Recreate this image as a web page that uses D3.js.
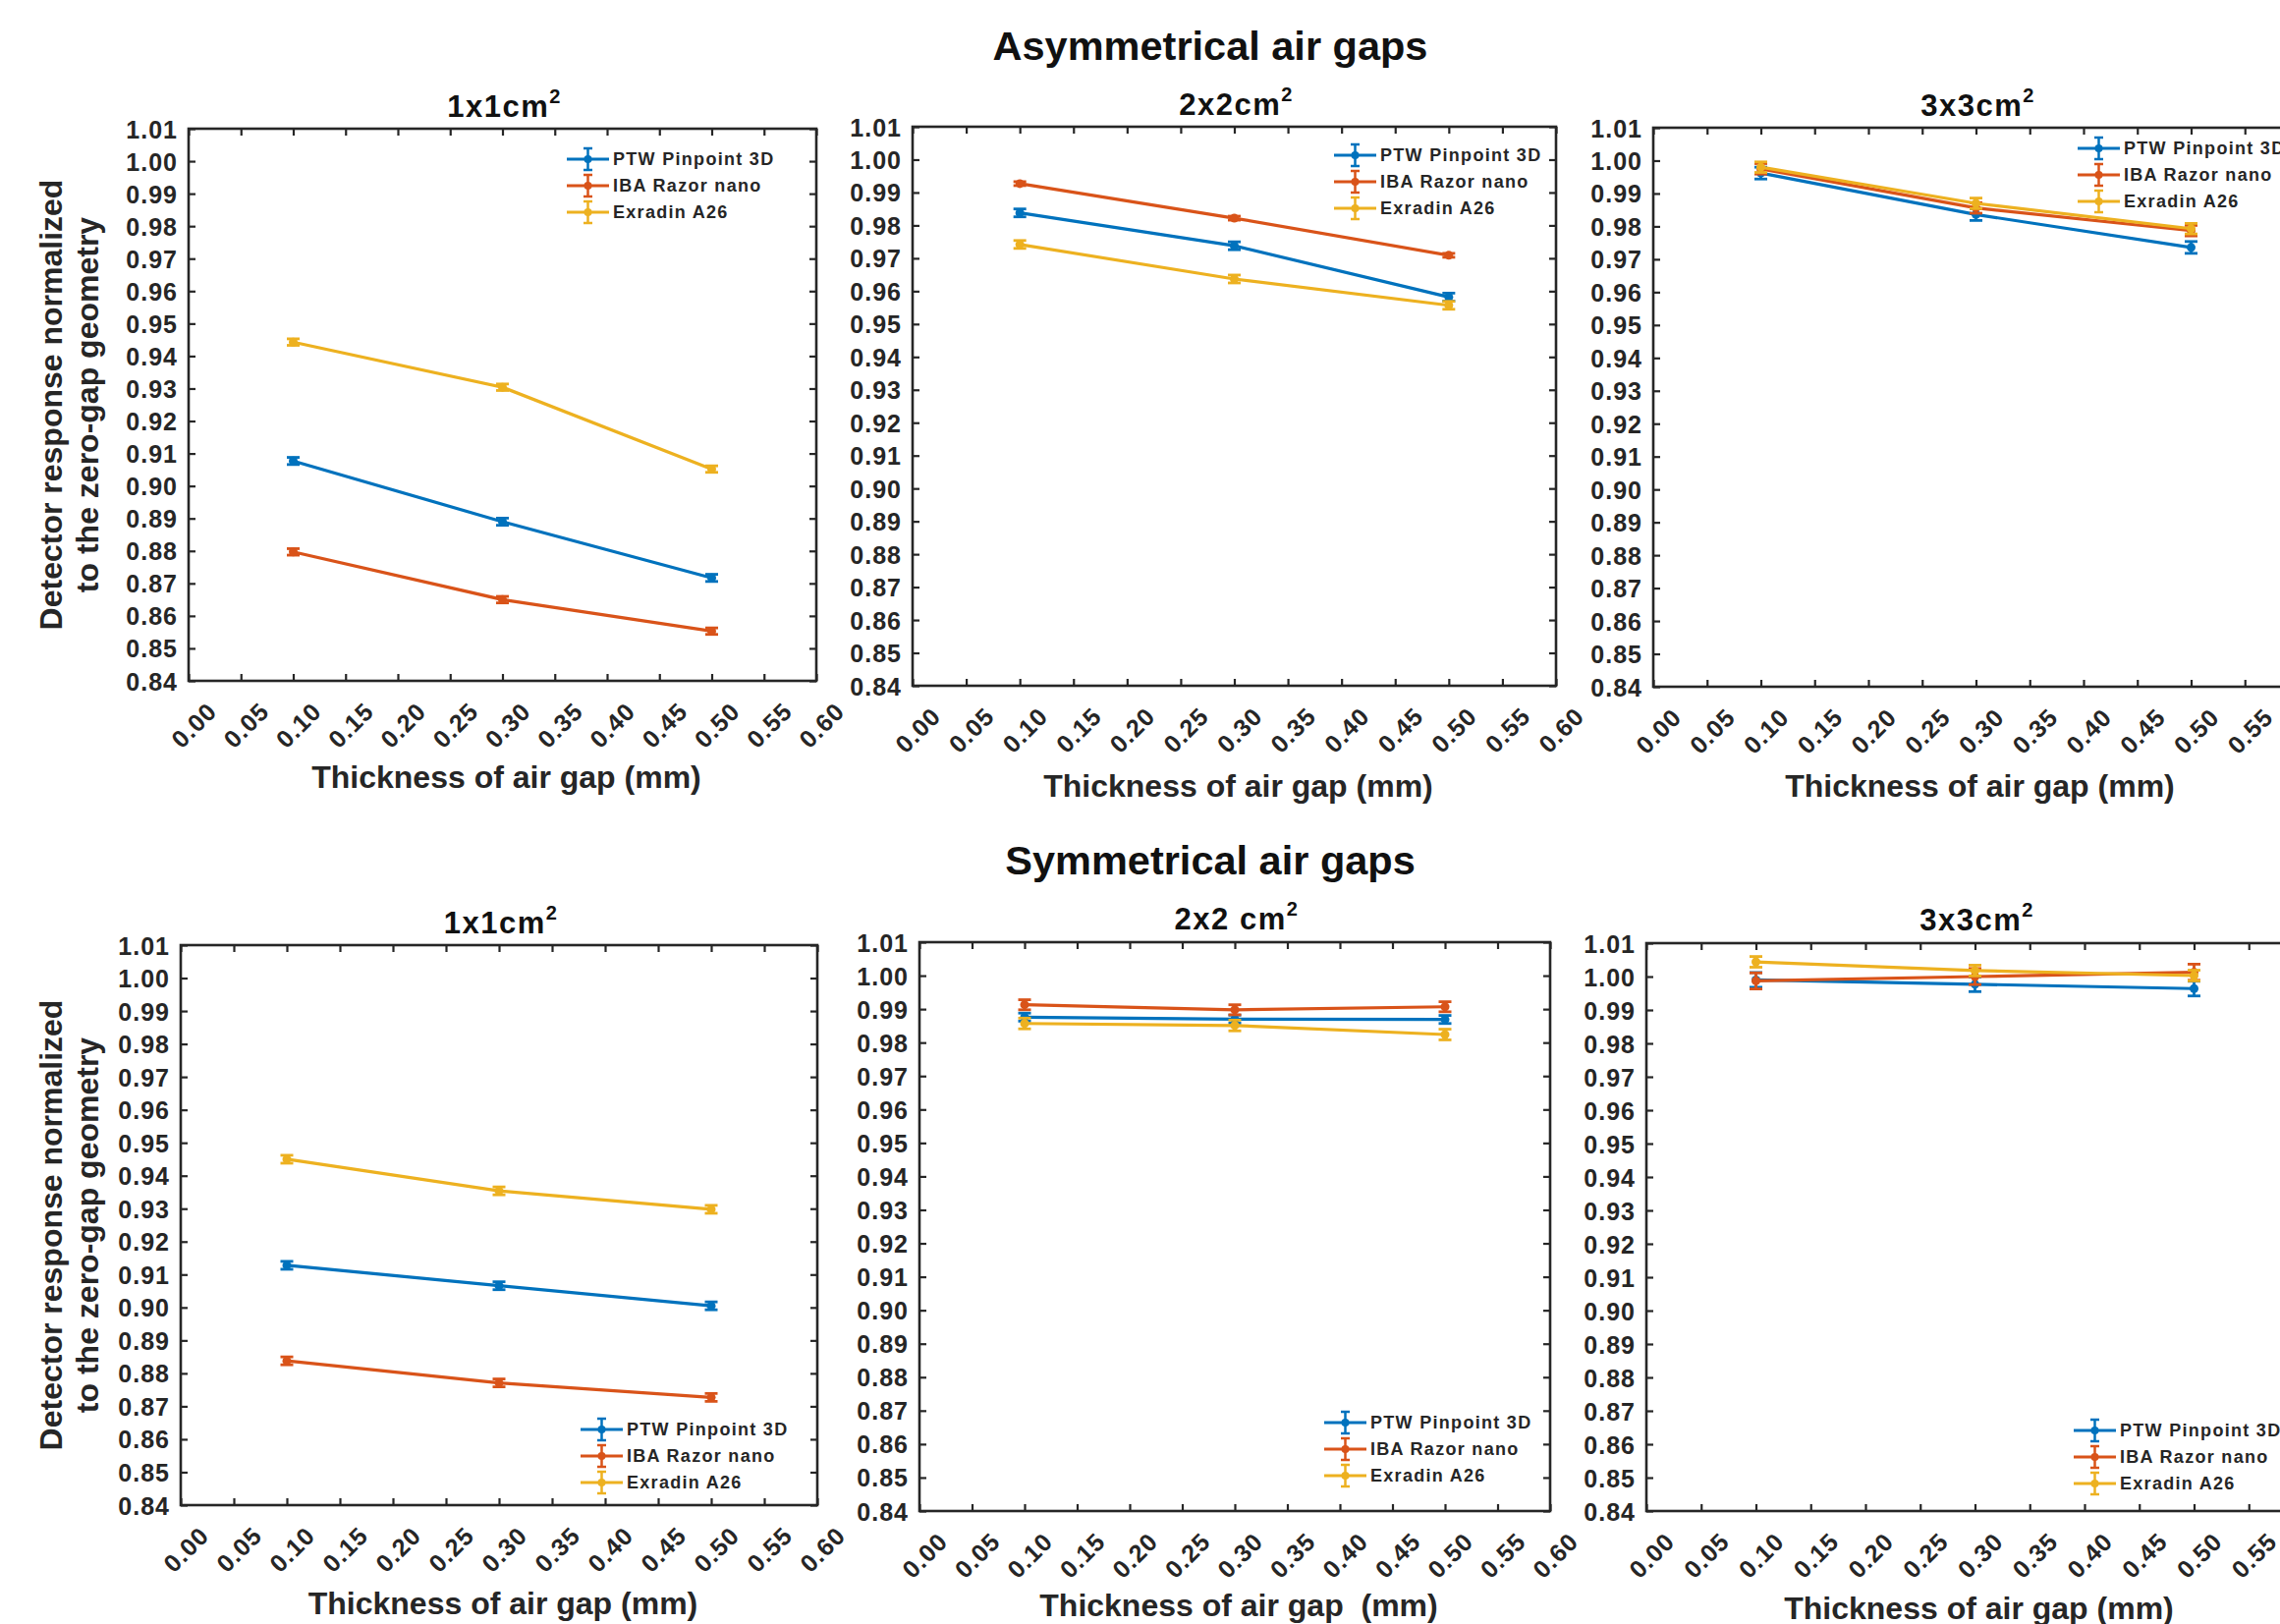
<!DOCTYPE html>
<html><head><meta charset="utf-8">
<script src="https://cdn.jsdelivr.net/npm/d3@7"></script>
<style>
body{margin:0;background:#fff}
svg text{font-family:"Liberation Sans",Arial,Helvetica,sans-serif;font-weight:bold}
</style>
</head><body>
<svg id="chart" width="2321" height="1653"></svg>
<script>
// ---------------- data ----------------
const gapThickness = [0.1, 0.3, 0.5];
const detectorNames = ["PTW Pinpoint 3D", "IBA Razor nano", "Exradin A26"];
const xTickValues = [0, 0.05, 0.10, 0.15, 0.20, 0.25, 0.30, 0.35, 0.40, 0.45, 0.50, 0.55, 0.60];
const yTickValues = [0.84, 0.85, 0.86, 0.87, 0.88, 0.89, 0.90, 0.91, 0.92, 0.93, 0.94, 0.95, 0.96, 0.97, 0.98, 0.99, 1.00, 1.01];
const groupTitles = ["Asymmetrical air gaps", "Symmetrical air gaps"];
const panelTitles = ["1x1cm", "2x2cm", "3x3cm", "1x1cm", "2x2 cm", "3x3cm"];
const xAxisTitles = ["Thickness of air gap (mm)", "Thickness of air gap (mm)", "Thickness of air gap (mm)",
                     "Thickness of air gap (mm)", "Thickness of air gap\u00a0 (mm)", "Thickness of air gap (mm)"];
const yAxisTitleLines = ["Detector response normalized", "to the zero-gap geometry"];

// Asymmetrical air gaps
const asym1x1PTW = [0.9077, 0.8890, 0.8717];
const asym1x1IBA = [0.8797, 0.8650, 0.8553];
const asym1x1Exr = [0.9443, 0.9304, 0.9052];
const asym2x2PTW = [0.9838, 0.9738, 0.9582];
const asym2x2IBA = [0.9927, 0.9822, 0.9709];
const asym2x2Exr = [0.9742, 0.9637, 0.9557];
const asym3x3PTW = [0.9962, 0.9836, 0.9736];
const asym3x3IBA = [0.9975, 0.9856, 0.9787];
const asym3x3Exr = [0.9980, 0.9870, 0.9793];
// Symmetrical air gaps
const sym1x1PTW = [0.9128, 0.9066, 0.9005];
const sym1x1IBA = [0.8838, 0.8771, 0.8727];
const sym1x1Exr = [0.9450, 0.9354, 0.9298];
const sym2x2PTW = [0.9876, 0.9870, 0.9869];
const sym2x2IBA = [0.9913, 0.9898, 0.9907];
const sym2x2Exr = [0.9857, 0.9851, 0.9824];
const sym3x3PTW = [0.9990, 0.9977, 0.9964];
const sym3x3IBA = [0.9987, 1.0000, 1.0013];
const sym3x3Exr = [1.0044, 1.0018, 1.0003];
// error bar half-widths per detector (PTW, IBA, Exradin)
const asym1x1Err = [0.0011, 0.0010, 0.0010];
const asym2x2Err = [0.0012, 0.0006, 0.0012];
const asym3x3Err = [0.0018, 0.0016, 0.0016];
const sym1x1Err  = [0.0012, 0.0012, 0.0012];
const sym2x2Err  = [0.0012, 0.0015, 0.0016];
const sym3x3Err  = [0.0022, 0.0024, 0.0016];

const panelSeries = [
  [asym1x1PTW, asym1x1IBA, asym1x1Exr],
  [asym2x2PTW, asym2x2IBA, asym2x2Exr],
  [asym3x3PTW, asym3x3IBA, asym3x3Exr],
  [sym1x1PTW, sym1x1IBA, sym1x1Exr],
  [sym2x2PTW, sym2x2IBA, sym2x2Exr],
  [sym3x3PTW, sym3x3IBA, sym3x3Exr]
];
const panelErrors = [asym1x1Err, asym2x2Err, asym3x3Err, sym1x1Err, sym2x2Err, sym3x3Err];

// ---------------- layout & style ----------------
const colors = ["#0072BD", "#D95319", "#EDB120"];
const axisColor = "#262626";
const layout = [
  {x0:192, x1:831, y0:131, y1:693, titleY:119, xTitleY:802, legX:577, legY:162, ylab:true},
  {x0:929, x1:1584, y0:129, y1:698, titleY:117, xTitleY:811, legX:1358, legY:158, ylab:false},
  {x0:1683, x1:2340, y0:130, y1:699, titleY:118, xTitleY:811, legX:2115, legY:151, ylab:false},
  {x0:184, x1:832, y0:962, y1:1532, titleY:950, xTitleY:1643, legX:591, legY:1455, ylab:true},
  {x0:936, x1:1578, y0:959, y1:1538, titleY:946, xTitleY:1645, legX:1348, legY:1448, ylab:false},
  {x0:1676, x1:2345, y0:960, y1:1538, titleY:947, xTitleY:1648, legX:2111, legY:1456, ylab:false}
];
const groupTitlePos = [{x:1232, y:61}, {x:1232, y:890}];

const svg = d3.select("#chart");

groupTitles.forEach((t, i) => {
  svg.append("text").attr("x", groupTitlePos[i].x).attr("y", groupTitlePos[i].y)
    .attr("text-anchor", "middle").attr("font-size", 41.5).attr("fill", "#111").text(t);
});

layout.forEach((L, p) => {
  const x = d3.scaleLinear().domain([0, 0.6]).range([L.x0, L.x1]);
  const y = d3.scaleLinear().domain([0.84, 1.01]).range([L.y1, L.y0]);
  const g = svg.append("g");
  const fmt = d3.format(".2f");

  // bottom axis (ticks inward + rotated labels)
  const gb = g.append("g").attr("transform", `translate(0,${L.y1})`)
    .call(d3.axisBottom(x).tickValues(xTickValues).tickSize(-7).tickSizeOuter(0).tickFormat(fmt));
  gb.select(".domain").remove();
  gb.selectAll("line").attr("stroke", axisColor).attr("stroke-width", 2.2);
  gb.selectAll("text").attr("x", 0).attr("y", 0).attr("dy", "0.72em")
    .attr("text-anchor", "end").attr("transform", "translate(17,20) rotate(-45)")
    .attr("font-size", 25).attr("letter-spacing", "1px").attr("fill", axisColor)
    .attr("font-family", null);

  // top axis ticks
  const gt = g.append("g").attr("transform", `translate(0,${L.y0})`)
    .call(d3.axisTop(x).tickValues(xTickValues).tickSize(-7).tickSizeOuter(0).tickFormat(""));
  gt.select(".domain").remove();
  gt.selectAll("line").attr("stroke", axisColor).attr("stroke-width", 2.2);

  // left axis
  const gl = g.append("g").attr("transform", `translate(${L.x0},0)`)
    .call(d3.axisLeft(y).tickValues(yTickValues).tickSize(-7).tickSizeOuter(0).tickFormat(fmt));
  gl.select(".domain").remove();
  gl.selectAll("line").attr("stroke", axisColor).attr("stroke-width", 2.2);
  gl.selectAll("text").attr("x", -11).attr("dy", "0.36em")
    .attr("font-size", 25).attr("letter-spacing", "1px").attr("fill", axisColor)
    .attr("font-family", null);

  // right axis ticks
  const gr = g.append("g").attr("transform", `translate(${L.x1},0)`)
    .call(d3.axisRight(y).tickValues(yTickValues).tickSize(-7).tickSizeOuter(0).tickFormat(""));
  gr.select(".domain").remove();
  gr.selectAll("line").attr("stroke", axisColor).attr("stroke-width", 2.2);

  // box
  g.append("rect").attr("x", L.x0).attr("y", L.y0)
    .attr("width", L.x1 - L.x0).attr("height", L.y1 - L.y0)
    .attr("fill", "none").attr("stroke", axisColor).attr("stroke-width", 2.6);

  // series
  const line = d3.line().x((d, i) => x(gapThickness[i])).y(d => y(d));
  panelSeries[p].forEach((vals, s) => {
    const c = colors[s];
    const err = panelErrors[p][s];
    const sg = g.append("g");
    sg.append("path").datum(vals).attr("d", line)
      .attr("fill", "none").attr("stroke", c).attr("stroke-width", 3.2);
    const pts = sg.selectAll("g.pt").data(vals).join("g");
    pts.append("line")
      .attr("x1", (d, i) => x(gapThickness[i])).attr("x2", (d, i) => x(gapThickness[i]))
      .attr("y1", d => y(d - err)).attr("y2", d => y(d + err))
      .attr("stroke", c).attr("stroke-width", 2.8);
    [-1, 1].forEach(sign => {
      pts.append("line")
        .attr("x1", (d, i) => x(gapThickness[i]) - 6.5).attr("x2", (d, i) => x(gapThickness[i]) + 6.5)
        .attr("y1", d => y(d + sign * err)).attr("y2", d => y(d + sign * err))
        .attr("stroke", c).attr("stroke-width", 2.8);
    });
    pts.append("circle").attr("cx", (d, i) => x(gapThickness[i])).attr("cy", d => y(d))
      .attr("r", 4.5).attr("fill", c);
  });

  // legend
  detectorNames.forEach((name, s) => {
    const ly = L.legY + s * 27;
    const lg = g.append("g").attr("transform", `translate(${L.legX},${ly})`);
    const c = colors[s];
    lg.append("line").attr("x1", 0).attr("x2", 43).attr("y1", 0).attr("y2", 0)
      .attr("stroke", c).attr("stroke-width", 3);
    lg.append("line").attr("x1", 21.5).attr("x2", 21.5).attr("y1", -11).attr("y2", 11)
      .attr("stroke", c).attr("stroke-width", 2.5);
    [-11, 11].forEach(dy => lg.append("line").attr("x1", 17).attr("x2", 26)
      .attr("y1", dy).attr("y2", dy).attr("stroke", c).attr("stroke-width", 2.5));
    lg.append("circle").attr("cx", 21.5).attr("cy", 0).attr("r", 4).attr("fill", c);
    lg.append("text").attr("x", 47).attr("y", 0).attr("dy", "0.36em")
      .attr("font-size", 18).attr("letter-spacing", "1.3px").attr("fill", axisColor).text(name);
  });

  // panel title with superscript
  const cx = (L.x0 + L.x1) / 2;
  const tt = g.append("text").attr("x", cx + 2).attr("y", L.titleY)
    .attr("text-anchor", "middle").attr("font-size", 31).attr("letter-spacing", "1.5px").attr("fill", "#111");
  tt.append("tspan").text(panelTitles[p]);
  tt.append("tspan").attr("font-size", 20).attr("dy", -14).text("2");

  // x axis title
  g.append("text").attr("x", cx + 4).attr("y", L.xTitleY)
    .attr("text-anchor", "middle").attr("font-size", 32).attr("fill", axisColor).text(xAxisTitles[p]);

  // y axis title
  if (L.ylab) {
    const cy = (L.y0 + L.y1) / 2;
    const yl = g.append("g").attr("transform", `translate(63,${cy}) rotate(-90)`);
    yAxisTitleLines.forEach((t, k) => {
      yl.append("text").attr("x", 0).attr("y", k * 37)
        .attr("text-anchor", "middle").attr("font-size", 32).attr("fill", axisColor).text(t);
    });
  }
});
</script>
</body></html>
